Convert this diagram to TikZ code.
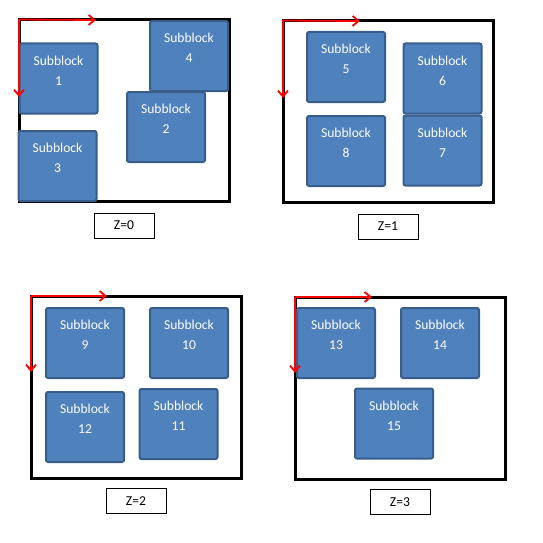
\documentclass[tikz,border=0pt]{standalone}
\usepackage{fontspec}
\setmainfont{Carlito}
\usepackage{xcolor}
\usetikzlibrary{shapes, arrows.meta, positioning}

\definecolor{subfill}{HTML}{4F81BD}
\definecolor{subline}{HTML}{385D8A}

\begin{document}
\begin{tikzpicture}[x=1pt, y=-1pt, node distance = 11pt, font=\fontsize{13.6}{20}\selectfont]

\tikzstyle{plane} = [rectangle, draw=black, line width=3pt, outer sep=0pt, minimum width=210pt, minimum height=182pt]
\tikzstyle{subblock} = [rectangle, rounded corners=2pt, draw=subline, line width=2pt, fill=subfill, text=white, align=center, inner sep=0pt, minimum width=78pt, minimum height=70pt, text height=41.5pt, text depth=28.5pt]
\tikzstyle{zlabel} = [rectangle, draw=black, line width=0.8pt, fill=white, text centered, minimum width=60pt, minimum height=25pt, inner sep=0pt]
\tikzstyle{axis} = [red, line width=1.8pt, -{Straight Barb[length=6pt, width=10pt]}]

\useasboundingbox (0,0) rectangle (543,543);

% Z=0
\node (plane0) [plane] at (124,110.5) {};
\node (sub1) [subblock] at (58.5,78.5) {Subblock\\1};
\node (sub4) [subblock] at (189,56) {Subblock\\4};
\node (sub2) [subblock] at (166,127) {Subblock\\2};
\node (sub3) [subblock] at (57.5,166) {Subblock\\3};
\node (zlabel0) [zlabel, below=11pt of plane0] {Z=0};
\coordinate (xend0) at (96,20);
\coordinate (yend0) at (19,97);

% Z=1
\node (plane1) [plane] at (388,111.5) {};
\node (sub5) [subblock] at (346,67) {Subblock\\5};
\node (sub6) [subblock] at (442.5,78.5) {Subblock\\6};
\node (sub8) [subblock] at (346,151) {Subblock\\8};
\node (sub7) [subblock] at (442.5,150.5) {Subblock\\7};
\node (zlabel1) [zlabel, below=11pt of plane1] {Z=1};
\coordinate (xend1) at (360,21);
\coordinate (yend1) at (283,98);

% Z=2
\node (plane2) [plane] at (136,387) {};
\node (sub9) [subblock] at (85,343) {Subblock\\9};
\node (sub10) [subblock] at (189,343) {Subblock\\10};
\node (sub12) [subblock] at (85,427) {Subblock\\12};
\node (sub11) [subblock] at (178.5,424) {Subblock\\11};
\node (zlabel2) [zlabel, below=10pt of plane2] {Z=2};
\coordinate (xend2) at (107,296);
\coordinate (yend2) at (31,372);

% Z=3
\node (plane3) [plane] at (400,388) {};
\node (sub13) [subblock] at (336,343) {Subblock\\13};
\node (sub14) [subblock] at (440,343) {Subblock\\14};
\node (sub15) [subblock] at (394,423.5) {Subblock\\15};
\node (zlabel3) [zlabel, below=10pt of plane3] {Z=3};
\coordinate (xend3) at (372,297);
\coordinate (yend3) at (295,373);

\draw [axis] (plane0.north west) -- (xend0);
\draw [axis] (plane0.north west) -- (yend0);
\draw [axis] (plane1.north west) -- (xend1);
\draw [axis] (plane1.north west) -- (yend1);
\draw [axis] (plane2.north west) -- (xend2);
\draw [axis] (plane2.north west) -- (yend2);
\draw [axis] (plane3.north west) -- (xend3);
\draw [axis] (plane3.north west) -- (yend3);
\end{tikzpicture}
\end{document}
